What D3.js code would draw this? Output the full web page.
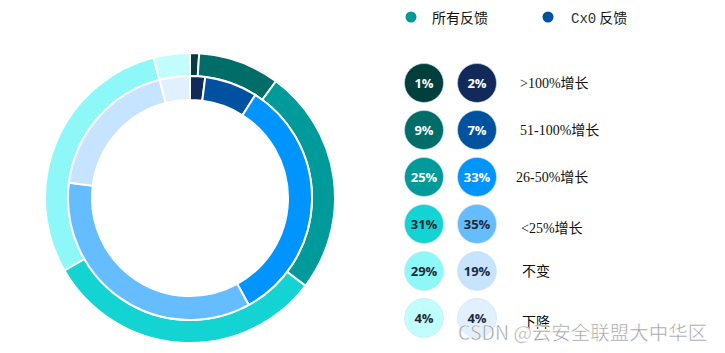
<!DOCTYPE html>
<html><head><meta charset="utf-8">
<script src="https://cdn.jsdelivr.net/npm/d3@7"></script>
<style>body{margin:0;background:#fff;}svg{display:block;}</style>
</head><body>
<svg id="c" width="725" height="353"></svg>
<script>
const categories = [">100%增长", "51-100%增长", "26-50%增长", "<25%增长", "不变", "下降"];
const seriesNames = ["所有反馈", "Cx0 反馈"];
const allValues = [1, 9, 25, 31, 29, 4];
const cx0Values = [2, 7, 33, 35, 19, 4];
const allColors = ["#003f3c", "#006d68", "#009a9a", "#13d3d3", "#8ef8f8", "#c2fdfd"];
const cx0Colors = ["#112a5a", "#0052a1", "#0094ff", "#65bdff", "#c6e4ff", "#e0f0ff"];
const labelDark = [true, true, true, false, false, false];

const svg = d3.select("#c");
const cx = 190, cy = 198;
const pie = d3.pie().sort(null).value(d => d);
const outerArc = d3.arc().innerRadius(122).outerRadius(145);
const innerArc = d3.arc().innerRadius(98).outerRadius(122);
const g = svg.append("g").attr("transform", `translate(${cx},${cy})`);
g.selectAll("path.o").data(pie(allValues)).join("path").attr("class","o")
  .attr("d", outerArc).attr("fill", (d,i) => allColors[i]).attr("stroke", "#fff").attr("stroke-width", 2);
g.selectAll("path.i").data(pie(cx0Values)).join("path").attr("class","i")
  .attr("d", innerArc).attr("fill", (d,i) => cx0Colors[i]).attr("stroke", "#fff").attr("stroke-width", 2);

// top legend
const topLegend = [{x:411, name: seriesNames[0], color: allColors[2]}, {x:548, name: seriesNames[1], color: cx0Colors[1]}];
topLegend.forEach(l => {
  svg.append("circle").attr("cx", l.x).attr("cy", 17).attr("r", 5.5).attr("fill", l.color);
});
svg.append("text").attr("x", 432).attr("y", 23).attr("font-family", "Noto Sans CJK SC").attr("font-size", 14).attr("fill", "#111").text(seriesNames[0]);
const t2 = svg.append("text").attr("x", 571).attr("y", 23).attr("font-size", 14).attr("fill", "#111");
t2.append("tspan").attr("font-family", "Liberation Mono").attr("fill", "#333").text("Cx0");
t2.append("tspan").attr("font-family", "Noto Sans CJK SC").text(" 反馈");

// legend rows
const y = d3.scalePoint().domain(categories).range([83, 318]);
const labelX = [520, 520, 516, 521, 522, 522];
categories.forEach((c, i) => {
  const yy = y(c);
  [[424, allValues[i], allColors[i]], [477, cx0Values[i], cx0Colors[i]]].forEach(([x, v, col]) => {
    svg.append("circle").attr("cx", x).attr("cy", yy).attr("r", 19.5).attr("fill", col)
      .attr("stroke", "rgba(200,230,240,0.6)").attr("stroke-width", 1);
    svg.append("text").attr("x", x).attr("y", yy + 4.5).attr("text-anchor", "middle")
      .attr("font-family", "Open Sans").attr("font-weight", 700).attr("font-size", 13)
      .attr("fill", labelDark[i] ? "#fff" : "#1e2a3a").text(v + "%");
  });
  const ly = (i === 3 || i === 5) ? yy + 4 : yy;
  svg.append("text").attr("x", labelX[i]).attr("y", ly + 5).attr("font-size", 14)
    .attr("font-family", "Liberation Serif, Noto Sans CJK SC").attr("fill", "#111").text(c);
});

// watermark
svg.append("text").attr("x", 458).attr("y", 340).attr("font-family", "Noto Sans CJK SC, Liberation Sans")
  .attr("font-size", 19.5).attr("fill", "#a0a0a0").attr("stroke", "#fff").attr("stroke-width", 0.5)
  .text("CSDN @云安全联盟大中华区");
</script>
</body></html>
